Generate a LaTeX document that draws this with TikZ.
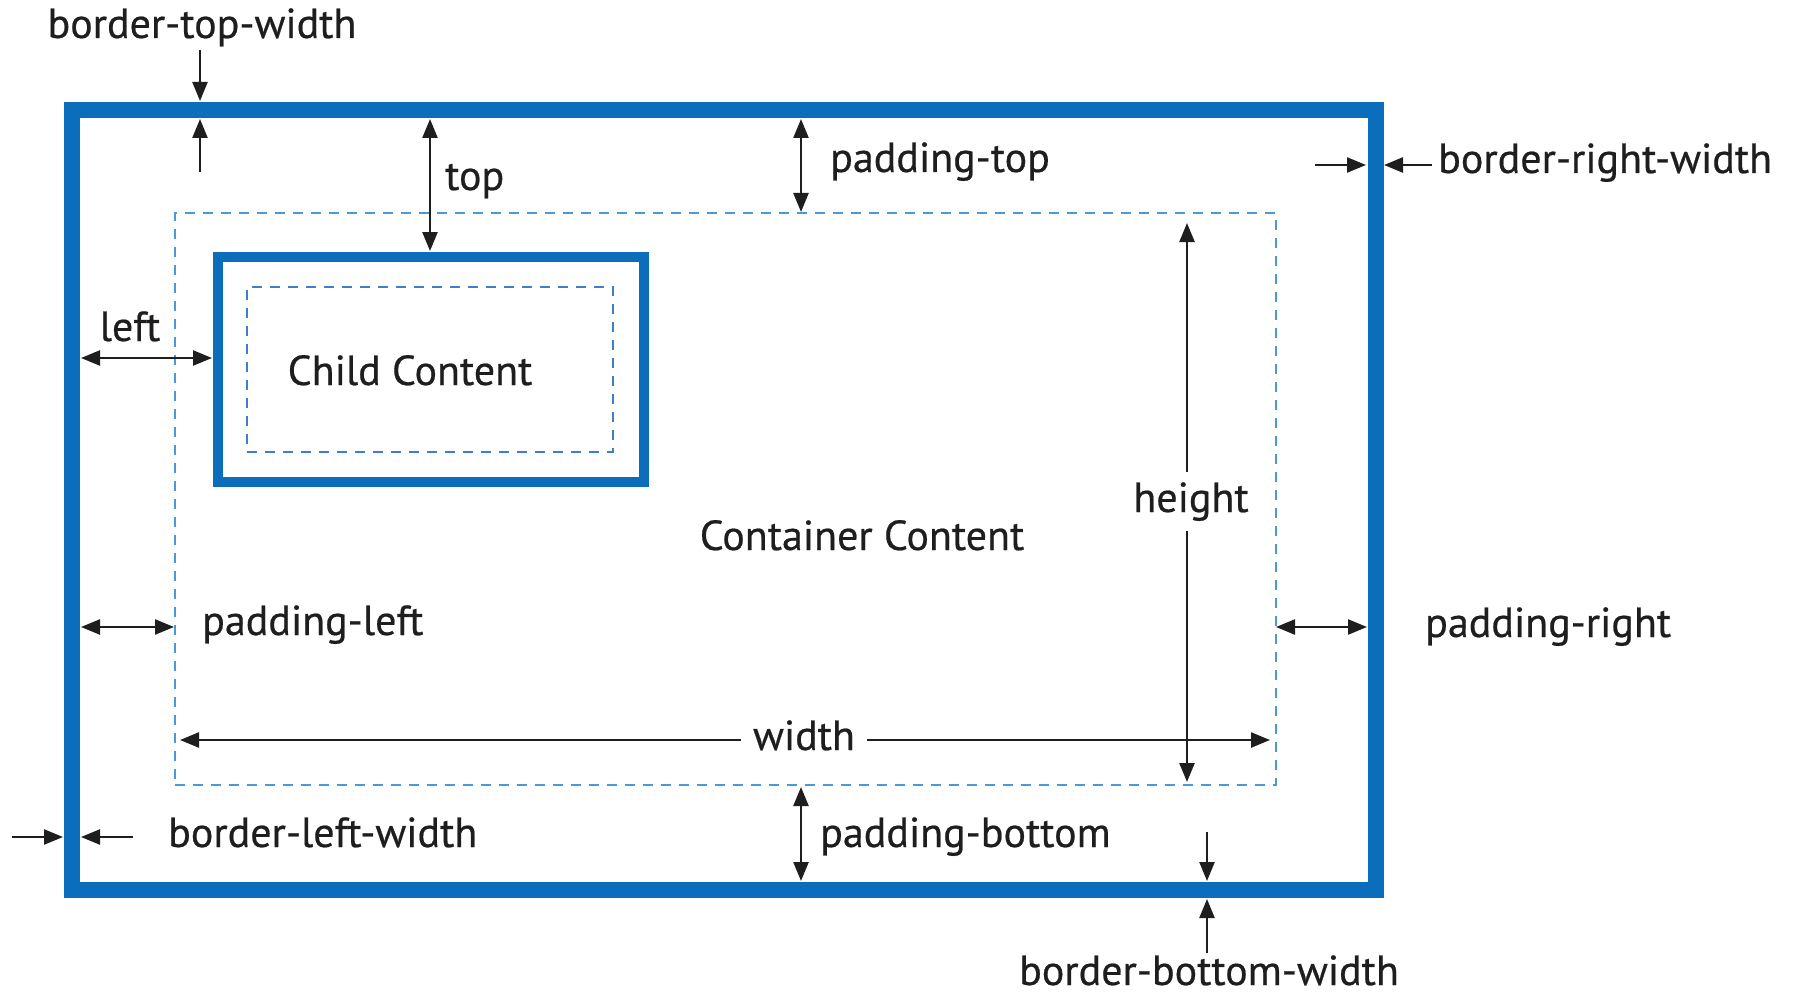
\documentclass[tikz,border=0pt]{standalone}
\usepackage{fontspec}
\setmainfont{PT Sans}[FakeBold=0.5]
\usetikzlibrary{arrows.meta}
\definecolor{boxblue}{HTML}{0A6EBD}
\definecolor{padblue}{HTML}{4A9AD6}
\definecolor{childpad}{HTML}{3E80C6}
\definecolor{ink}{HTML}{1E1E1E}
\begin{document}
\begin{tikzpicture}[x=1pt,y=-1pt,
  solidbox/.style={draw=boxblue, inner sep=0pt, outer sep=0pt},
  dashbox/.style={draw=#1, line width=2.8pt, dash pattern=on 10pt off 8pt, inner sep=0pt, outer sep=0pt},
  dim/.style={draw=ink, line width=2.4pt, {Triangle[length=19pt,width=15pt]}-{Triangle[length=19pt,width=15pt]}},
  ptr/.style={draw=ink, line width=2.4pt, -{Triangle[length=19pt,width=15pt]}},
  lbl/.style={font=\fontsize{42}{50}\selectfont, text=ink, inner sep=0pt},
  cutlbl/.style={lbl, fill=white, inner xsep=12pt, inner ysep=10pt}]
  \useasboundingbox (0,0) rectangle (1793,995);
  \fill[white] (0,0) rectangle (1793,995);

  % boxes: container border, container content area, child border, child content area
  \node[solidbox, line width=16pt, minimum width=1304pt, minimum height=780pt] (outer) at (724,500) {};
  \node[dashbox=padblue, minimum width=1101pt, minimum height=572pt] (container) at (725.5,499) {};
  \node[solidbox, line width=10pt, minimum width=426pt, minimum height=225pt] (child) at (431,369.5) {};
  \node[dashbox=childpad, minimum width=366pt, minimum height=165pt] (childpad) at (430,369.5) {};

  % texts inside the boxes
  \node[lbl, anchor=base] (childtxt) at (410,385) {Child Content};
  \node[lbl, anchor=base] (conttxt) at (862,550) {Container Content};

  % border-top-width
  \node[lbl, anchor=base] (btwtxt) at (202,38) {border-top-width};
  \coordinate (btw1) at (200,50);  \coordinate (btw2) at (200,101);
  \coordinate (btw3) at (200,172); \coordinate (btw4) at (200,119);
  \draw[ptr] (btw1) -- (btw2);
  \draw[ptr] (btw3) -- (btw4);

  % top
  \coordinate (top1) at (430,119); \coordinate (top2) at (430,251);
  \draw[dim] (top1) -- (top2);
  \node[lbl, anchor=base west] (toptxt) at (445,190) {top};

  % padding-top
  \coordinate (pt1) at (801,119); \coordinate (pt2) at (801,212);
  \draw[dim] (pt1) -- (pt2);
  \node[lbl, anchor=base west] (pttxt) at (830,172) {padding-top};

  % border-right-width
  \coordinate (brw1) at (1315,165); \coordinate (brw2) at (1366,165);
  \coordinate (brw3) at (1432,165); \coordinate (brw4) at (1384,165);
  \draw[ptr] (brw1) -- (brw2);
  \draw[ptr] (brw3) -- (brw4);
  \node[lbl, anchor=base west] (brwtxt) at (1438,173) {border-right-width};

  % left
  \coordinate (lf1) at (81,358); \coordinate (lf2) at (212,358);
  \draw[dim] (lf1) -- (lf2);
  \node[lbl, anchor=base] (lftxt) at (130,341) {left};

  % padding-left / padding-right
  \coordinate (pl1) at (81,627); \coordinate (pl2) at (174,627);
  \draw[dim] (pl1) -- (pl2);
  \node[lbl, anchor=base west] (pltxt) at (202,635) {padding-left};
  \coordinate (pr1) at (1276,627); \coordinate (pr2) at (1367,627);
  \draw[dim] (pr1) -- (pr2);
  \node[lbl, anchor=base west] (prtxt) at (1425,637) {padding-right};

  % width and height
  \coordinate (w1) at (180,740); \coordinate (w2) at (1270,740);
  \draw[dim] (w1) -- (w2);
  \node[cutlbl, anchor=base] (wtxt) at (804,750) {width};
  \coordinate (h1) at (1187,223); \coordinate (h2) at (1187,782);
  \draw[dim] (h1) -- (h2);
  \node[cutlbl, anchor=base] (htxt) at (1191,512) {height};

  % padding-bottom
  \coordinate (pb1) at (801,787); \coordinate (pb2) at (801,881);
  \draw[dim] (pb1) -- (pb2);
  \node[lbl, anchor=base west] (pbtxt) at (820,847) {padding-bottom};

  % border-left-width
  \coordinate (blw1) at (12,837);  \coordinate (blw2) at (63,837);
  \coordinate (blw3) at (133,837); \coordinate (blw4) at (81,837);
  \draw[ptr] (blw1) -- (blw2);
  \draw[ptr] (blw3) -- (blw4);
  \node[lbl, anchor=base west] (blwtxt) at (168,847) {border-left-width};

  % border-bottom-width
  \coordinate (bbw1) at (1207,832); \coordinate (bbw2) at (1207,881);
  \coordinate (bbw3) at (1207,953); \coordinate (bbw4) at (1207,899);
  \draw[ptr] (bbw1) -- (bbw2);
  \draw[ptr] (bbw3) -- (bbw4);
  \node[lbl, anchor=base] (bbwtxt) at (1209,985) {border-bottom-width};
\end{tikzpicture}
\end{document}
